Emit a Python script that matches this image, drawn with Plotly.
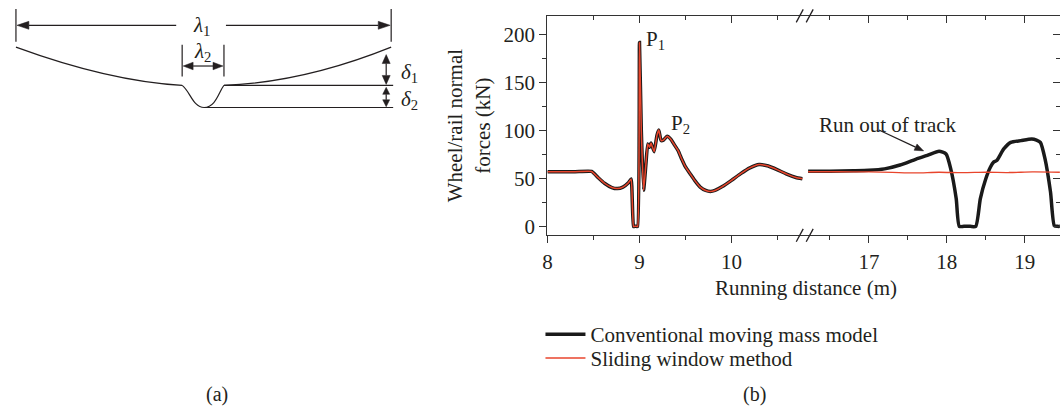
import math
import plotly.graph_objects as go

W, H = 1060, 411

# ---------------- data ----------------
x_left = [8.00, 8.30, 8.48, 8.55, 8.62, 8.70, 8.76, 8.82, 8.88, 8.91, 8.935, 8.95, 8.965,
          8.98, 9.00, 9.02, 9.045, 9.07, 9.09, 9.11, 9.125, 9.14, 9.16, 9.19, 9.21,
          9.235, 9.26, 9.30, 9.34, 9.38, 9.42, 9.46, 9.50, 9.55, 9.60, 9.66, 9.72,
          9.77, 9.82, 9.90, 10.00, 10.10, 10.20, 10.30, 10.40, 10.50, 10.60, 10.70, 10.77]
conv_left = [57.0, 57.0, 57.3, 51.0, 45.0, 40.5, 39.4, 41.0, 45.5, 49.5, 0.0, 0.0, 0.0,
             0.0, 192.0, 100.0, 37.6, 65.0, 86.0, 82.5, 87.0, 83.0, 78.0, 95.0, 100.5,
             89.5, 90.0, 94.0, 91.0, 85.0, 79.0, 70.0, 62.0, 55.0, 48.0, 41.0, 37.5,
             36.5, 37.5, 41.5, 48.0, 55.0, 61.0, 64.5, 63.0, 59.0, 54.5, 51.0, 49.7]
slide_left = [57.0, 57.0, 57.3, 51.0, 45.0, 40.5, 39.4, 41.0, 45.5, 49.5, 0.0, 0.0, 0.0,
              0.0, 192.0, 100.0, 37.6, 65.0, 86.0, 82.5, 87.0, 83.0, 78.0, 95.0, 100.5,
              89.5, 90.0, 94.0, 91.0, 85.0, 79.0, 70.0, 62.0, 55.0, 48.0, 41.0, 37.5,
              36.5, 37.5, 41.5, 48.0, 55.0, 61.0, 64.5, 63.0, 59.0, 54.5, 51.0, 49.7]

x_right_conv = [16.22, 16.50, 16.80, 17.00, 17.20, 17.40, 17.60, 17.75, 17.90, 17.99,
                18.05, 18.12, 18.16, 18.22, 18.30, 18.37, 18.43, 18.50, 18.56, 18.60,
                18.64, 18.73, 18.82, 18.95, 19.09, 19.15, 19.20, 19.26, 19.33, 19.38,
                19.42, 19.45]
conv_right = [57.5, 57.5, 58.0, 58.5, 60.0, 64.0, 70.0, 74.0, 78.4, 75.6,
              60.0, 29.0, 0.0, 0.0, 0.0, 0.0, 29.0, 49.7, 62.0, 67.0,
              68.7, 80.8, 87.7, 89.5, 91.2, 90.0, 87.7, 70.5, 36.0, 0.5,
              0.0, 0.0]

x_right_slide = [16.22, 16.60, 17.00, 17.30, 17.60, 17.90, 18.20, 18.50, 18.80, 19.10, 19.45]
slide_right = [57.0, 57.0, 56.8, 56.3, 55.8, 56.5, 56.0, 56.5, 56.2, 56.8, 56.5]

y_ticks = [0, 50, 100, 150, 200]
names = ["Conventional moving mass model", "Sliding window method"]

# ---------------- styling helpers ----------------
FONT = "Liberation Serif"
TXT = "#231f20"
BLACK = "#1a1a1a"
RED = "#e8452c"
FS = 21


def px(x):
    return x / W


def py(y):
    return 1 - y / H


fig = go.Figure()

fig.add_trace(go.Scatter(x=x_left, y=conv_left, mode="lines", name=names[0],
                         legendgroup="conv", legend="legend",
                         line=dict(color=BLACK, width=3.5, shape="spline", smoothing=0.4),
                         xaxis="x", yaxis="y"))
fig.add_trace(go.Scatter(x=x_right_conv, y=conv_right, mode="lines", name=names[0],
                         legendgroup="conv", showlegend=False, legend="legend",
                         line=dict(color=BLACK, width=3.5, shape="spline", smoothing=0.6),
                         xaxis="x2", yaxis="y"))
fig.add_trace(go.Scatter(x=x_left, y=slide_left, mode="lines", name=names[1],
                         legendgroup="slide", legend="legend2",
                         line=dict(color=RED, width=1.5, shape="spline", smoothing=0.4),
                         xaxis="x", yaxis="y"))
fig.add_trace(go.Scatter(x=x_right_slide, y=slide_right, mode="lines", name=names[1],
                         legendgroup="slide", showlegend=False, legend="legend2",
                         line=dict(color=RED, width=1.3, shape="spline", smoothing=0.8),
                         xaxis="x2", yaxis="y"))
# empty carriers so the top frame axes and the right tick axis are drawn
for xa, ya in (("x3", "y"), ("x4", "y"), ("x2", "y2")):
    fig.add_trace(go.Scatter(x=[], y=[], mode="lines", showlegend=False,
                             hoverinfo="skip", xaxis=xa, yaxis=ya))

AX_COL = "#333333"
common_x = dict(showgrid=False, zeroline=False, showline=True, linecolor=AX_COL,
                linewidth=1.3, tickcolor=AX_COL, tickwidth=1.2, dtick=1,
                tickfont=dict(family=FONT, size=FS, color=TXT))

x_dom1 = [px(545), px(803)]
x_dom2 = [px(803), 1.0]
y_dom = [py(237), py(16)]
x_rng1 = [8, 10.79]
x_rng2 = [16.17, 19.452]
y_rng = [-9.3, 219.7]

fig.update_layout(
    width=W, height=H,
    margin=dict(l=0, r=0, t=0, b=0),
    paper_bgcolor="white", plot_bgcolor="rgba(0,0,0,0)",
    font=dict(family=FONT, size=FS, color=TXT),
    xaxis=dict(domain=x_dom1, range=x_rng1, anchor="y", tick0=8, ticks="outside",
               ticklen=7, minor=dict(dtick=0.5, ticks="outside", ticklen=4,
                                     tickcolor=AX_COL, tickwidth=1.2),
               **common_x),
    xaxis2=dict(domain=x_dom2, range=x_rng2, anchor="y", tick0=17, ticks="outside",
                ticklen=7, minor=dict(dtick=0.5, ticks="outside", ticklen=4,
                                      tickcolor=AX_COL, tickwidth=1.2),
                **common_x),
    xaxis3=dict(overlaying="x", side="top", anchor="y", domain=x_dom1, range=x_rng1,
                tick0=8, ticks="inside", ticklen=7, showticklabels=False,
                minor=dict(dtick=0.5, ticks="inside", ticklen=4,
                           tickcolor=AX_COL, tickwidth=1.2),
                **common_x),
    xaxis4=dict(overlaying="x2", side="top", anchor="y", domain=x_dom2, range=x_rng2,
                tick0=17, ticks="inside", ticklen=7, showticklabels=False,
                minor=dict(dtick=0.5, ticks="inside", ticklen=4,
                           tickcolor=AX_COL, tickwidth=1.2),
                **common_x),
    yaxis=dict(domain=y_dom, range=y_rng, anchor="x", tickvals=y_ticks, ticks="outside",
               ticklen=7, tickcolor=AX_COL, tickwidth=1.2, showline=True,
               linecolor=AX_COL, linewidth=1.3, showgrid=False, zeroline=False,
               minor=dict(dtick=25, tick0=0, ticks="outside", ticklen=4,
                          tickcolor=AX_COL, tickwidth=1.2),
               tickfont=dict(family=FONT, size=FS, color=TXT),
               title=dict(text="Wheel/rail normal<br>forces (kN)", standoff=7,
                          font=dict(family=FONT, size=FS, color=TXT))),
    yaxis2=dict(overlaying="y", side="right", anchor="x2", range=y_rng, tickvals=y_ticks,
                ticks="inside", ticklen=7, tickcolor=AX_COL, tickwidth=1.2,
                showline=False, showgrid=False, zeroline=False, showticklabels=False,
                minor=dict(dtick=25, tick0=0, ticks="inside", ticklen=4,
                           tickcolor=AX_COL, tickwidth=1.2)),
    legend=dict(x=px(538), y=py(337), xanchor="left", yanchor="middle",
                bgcolor="rgba(0,0,0,0)", font=dict(family=FONT, size=FS, color=TXT),
                itemwidth=40, tracegroupgap=0),
    legend2=dict(x=px(538), y=py(361), xanchor="left", yanchor="middle",
                 bgcolor="rgba(0,0,0,0)", font=dict(family=FONT, size=FS, color=TXT),
                 itemwidth=40, tracegroupgap=0),
    showlegend=True,
)

shapes = []
LW = 1.2
SC = "#231f20"


def seg(x0, y0, x1, y1, w=LW):
    shapes.append(dict(type="line", xref="paper", yref="paper",
                       x0=px(x0), y0=py(y0), x1=px(x1), y1=py(y1),
                       line=dict(color=SC, width=w)))


def path(cmds, w=LW, fill=None):
    s = ""
    for c in cmds:
        if isinstance(c, str):
            s += c + " "
        else:
            s += f"{px(c[0]):.5f},{py(c[1]):.5f} "
    d = dict(type="path", xref="paper", yref="paper", path=s.strip(),
             line=dict(color=SC, width=w if fill is None else 0.5))
    if fill:
        d["fillcolor"] = fill
    shapes.append(d)


def head(xh, yh, xt, yt, length, half):
    dx, dy = xh - xt, yh - yt
    n = math.hypot(dx, dy)
    ux, uy = dx / n, dy / n
    bx, by = xh - ux * length, yh - uy * length
    path(["M", (xh, yh), "L", (bx - uy * half, by + ux * half), "L",
          (bx + uy * half, by - ux * half), "Z"], fill=SC)
    return bx, by


def arrow(xh, yh, xt, yt, both=False, length=9, half=3.2):
    bx, by = head(xh, yh, xt, yt, length, half)
    ex, ey = xt, yt
    if both:
        ex, ey = head(xt, yt, xh, yh, length, half)
    seg(ex, ey, bx, by)


# --- panel (a): schematic of the track irregularity ---
path(["M", (11, 47.5), "Q", (105, 82), (178, 86)])
path(["M", (178, 86), "C", (186, 92), (189, 108.3), (200, 108.3),
      "C", (212, 108.3), (215, 92), (220, 86)])
path(["M", (220, 86), "Q", (300, 83), (388, 47.5)])
seg(220, 86, 390, 86)
seg(200, 108.3, 390, 108.3)
seg(11, 9, 11, 42)
seg(388, 9, 388, 42)
seg(178, 45, 178, 77)
seg(220, 45, 220, 77)

arrow(12, 25.5, 172, 25.5, length=12, half=4)
arrow(387, 25.5, 222, 25.5, length=12, half=4)
arrow(179, 66.5, 219, 66.5, both=True, length=10, half=3.8)
arrow(383, 55, 383, 85, both=True, length=9, half=4)
arrow(383, 88, 383, 107.5, both=True, length=7, half=3.5)

# broken-axis marks
for yb in (16, 237):
    seg(795, yb + 6.5, 802, yb - 6.5, 1.3)
    seg(805, yb + 6.5, 812, yb - 6.5, 1.3)

# "Run out of track" pointer (pixel position of the annotation arrow)
arrow(923, 152, 878, 131, length=9, half=3.5)

fig.update_layout(shapes=shapes)

ann = []


def label(text, x, y, xanchor="center", yanchor="middle", size=FS, ref="paper"):
    d = dict(text=text, showarrow=False, xanchor=xanchor, yanchor=yanchor,
             font=dict(family=FONT, size=size, color=TXT))
    if ref == "paper":
        d.update(xref="paper", yref="paper", x=px(x), y=py(y))
    else:
        d.update(xref=ref[0], yref=ref[1], x=x, y=y)
    ann.append(d)


label("<i>λ</i><sub>1</sub>", 197, 26)
label("<i>λ</i><sub>2</sub>", 198, 52)
label("<i>δ</i><sub>1</sub>", 396, 74, xanchor="left")
label("<i>δ</i><sub>2</sub>", 396, 101, xanchor="left")
label("(a)", 213, 397, size=20)
label("(b)", 753, 397, size=20)

# panel (b) annotations
label("P<sub>1</sub>", 9.05, 195, xanchor="left", ref=("x", "y"))
label("P<sub>2</sub>", 9.32, 107, xanchor="left", ref=("x", "y"))
label("Run out of track", 16.33, 106, xanchor="left", ref=("x2", "y"))
label("Running distance (m)", 804.5, 290)

fig.update_layout(annotations=ann)

fig.write_html("out.html")
